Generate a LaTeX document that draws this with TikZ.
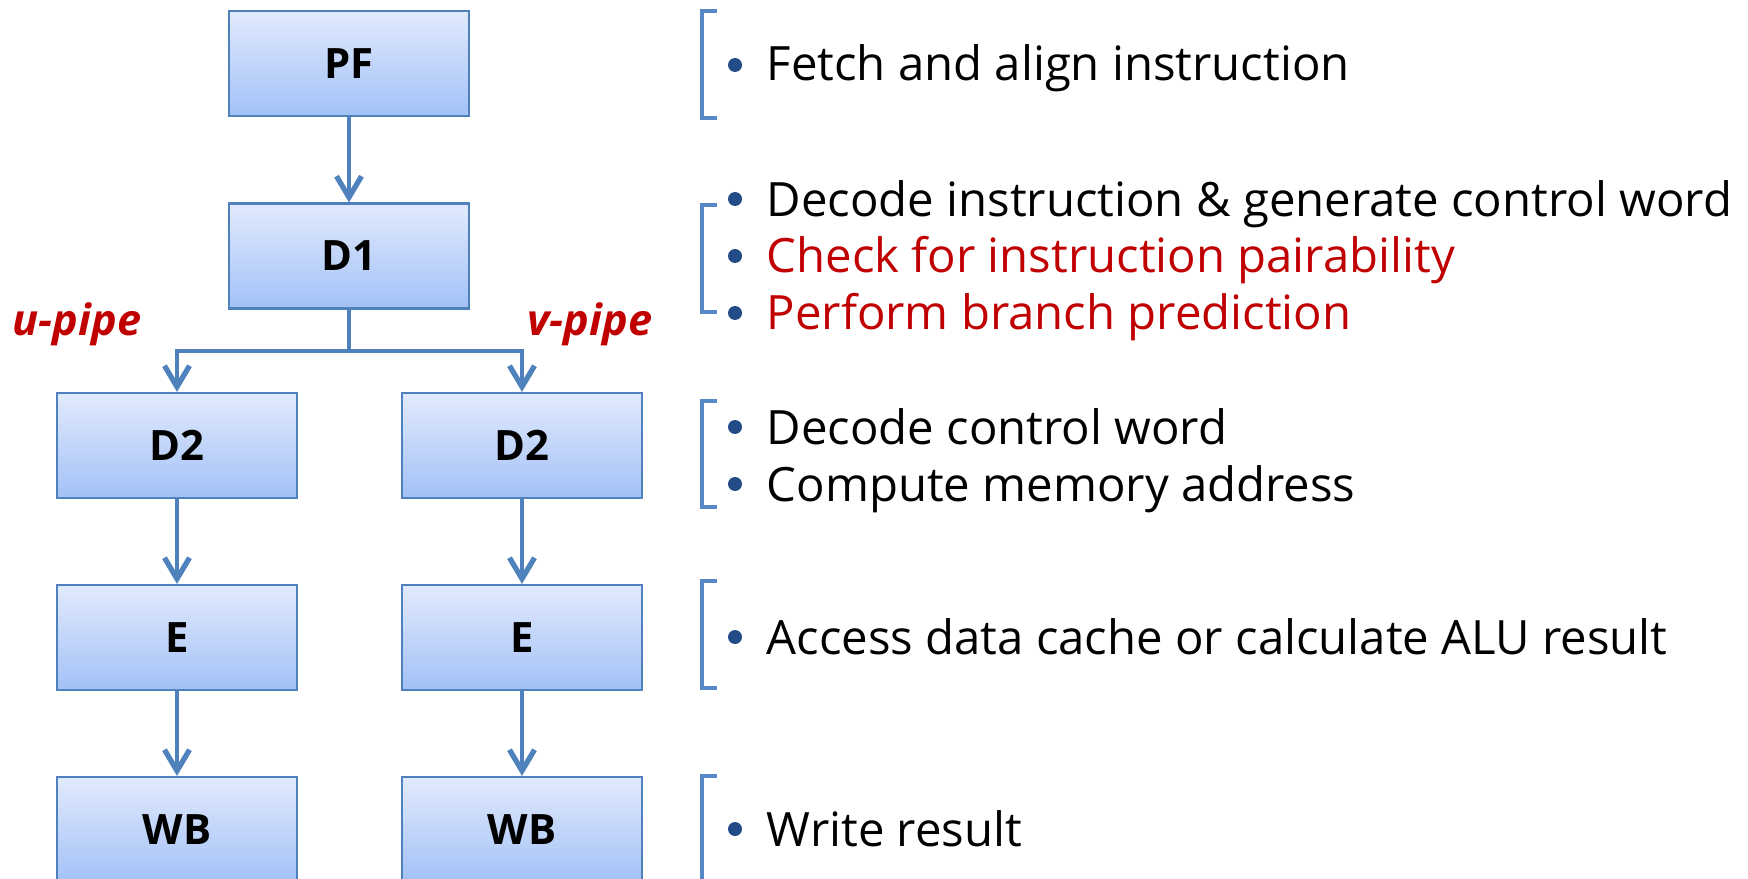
\documentclass[tikz,border=0pt]{standalone}
\usepackage{fontspec}
\setmainfont{Open Sans}
\usetikzlibrary{arrows.meta}
\definecolor{boxline}{HTML}{4F81BD}
\definecolor{boxtop}{HTML}{E1EAFD}
\definecolor{boxbot}{HTML}{A3C1F7}
\definecolor{brkblue}{HTML}{5687C6}
\definecolor{dotblue}{HTML}{234C86}
\definecolor{pipered}{HTML}{C00000}

\begin{document}
\begin{tikzpicture}[x=0.01cm,y=-0.01cm]
\tikzset{stage/.style={draw=boxline,line width=0.6pt,top color=boxtop,bottom color=boxbot,
    minimum width=2.4cm,minimum height=1.05cm,inner sep=0pt,font=\fontsize{11.9}{14}\selectfont\bfseries},
  flow/.style={boxline,line width=1.3pt,-{Straight Barb[length=0.21cm,width=0.25cm,line width=1.5pt]}},
  brk/.style={brkblue,line width=1.4pt},
  item/.style={anchor=base west,inner sep=0pt,font=\fontsize{13.45}{16}\selectfont},
  pipe/.style={anchor=base,inner sep=0pt,text=pipered,font=\fontsize{12.3}{14}\selectfont\bfseries\itshape}}
\useasboundingbox (0,0) rectangle (1748,879);
% pipeline stages
\node[stage] (pf) at (349,63.5) {PF};
\node[stage] (d1) at (349,256) {D1};
\node[stage] (d2u) at (177,445.5) {D2};
\node[stage] (d2v) at (522,445.5) {D2};
\node[stage] (eu) at (177,637.5) {E};
\node[stage] (ev) at (522,637.5) {E};
\node[stage] (wbu) at (177,829.5) {WB};
\node[stage] (wbv) at (522,829.5) {WB};
\coordinate (split) at (349,351);
\node[pipe] (upipe) at (77,335) {u-pipe};
\node[pipe] (vpipe) at (590,335) {v-pipe};
% connectors
\draw[flow] (pf) -- (d1);
\draw[boxline,line width=1.3pt] (d1.south) -- (split);
\draw[flow] (split) -| (d2u.north);
\draw[flow] (split) -| (d2v.north);
\draw[flow] (d2u) -- (eu);
\draw[flow] (d2v) -- (ev);
\draw[flow] (eu) -- (wbu);
\draw[flow] (ev) -- (wbv);
% brackets
\draw[brk] (717,11) -- (702,11) -- (702,118) -- (717,118);
\draw[brk] (717,205) -- (702,205) -- (702,312) -- (717,312);
\draw[brk] (717,401) -- (702,401) -- (702,507) -- (717,507);
\draw[brk] (717,581) -- (702,581) -- (702,688) -- (717,688);
\draw[brk] (717,776) -- (702,776) -- (702,900);
% bullets
\fill[dotblue] (735,65) circle (7);
\fill[dotblue] (735,199) circle (7);
\fill[dotblue] (735,256) circle (7);
\fill[dotblue] (735,313) circle (7);
\fill[dotblue] (735,427) circle (7);
\fill[dotblue] (735,484) circle (7);
\fill[dotblue] (735,637) circle (7);
\fill[dotblue] (735,829) circle (7);
% descriptions
\node[item] (pftxt) at (766,81) {Fetch and align instruction};
\node[item] (d1txta) at (766,216) {Decode instruction \& generate control word};
\node[item,text=pipered] (d1txtb) at (766,273) {Check for instruction pairability};
\node[item,text=pipered] (d1txtc) at (766,330) {Perform branch prediction};
\node[item] (d2txta) at (766,444) {Decode control word};
\node[item] (d2txtb) at (766,501) {Compute memory address};
\node[item] (etxt) at (766,654) {Access data cache or calculate ALU result};
\node[item] (wbtxt) at (766,846) {Write result};
\end{tikzpicture}
\end{document}
